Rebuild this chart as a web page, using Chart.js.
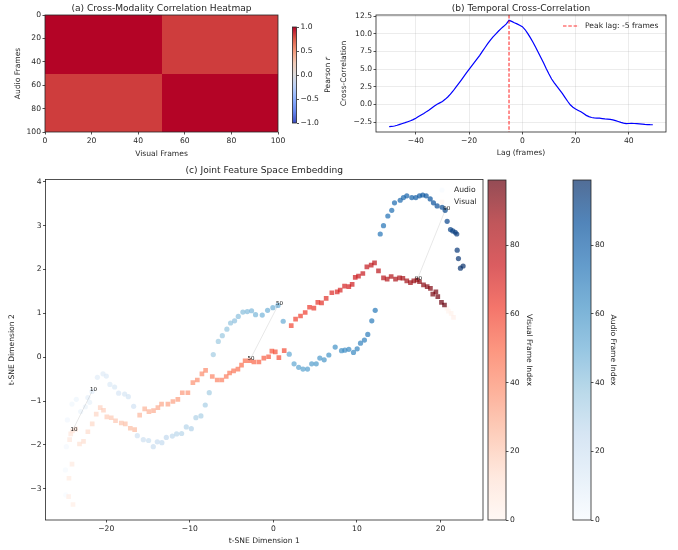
<!DOCTYPE html>
<html>
<head>
<meta charset="utf-8">
<script src="https://cdn.jsdelivr.net/npm/chart.js@4.4.1/dist/chart.umd.min.js"></script>
<style>
  html, body { margin: 0; padding: 0; background: #fff; }
  #fig { position: relative; width: 678px; height: 550px; overflow: hidden; background: #fff; }
  canvas { position: absolute; }
</style>
</head>
<body>
<div id="fig">
  <canvas id="heat" width="290" height="160" style="left:0;top:0"></canvas>
  <canvas id="heatbar" width="60" height="160" style="left:285px;top:0"></canvas>
  <canvas id="xcorr" width="343" height="160" style="left:335px;top:0"></canvas>
  <canvas id="embed" width="490" height="390" style="left:0;top:160px"></canvas>
  <canvas id="vbar" width="70" height="390" style="left:484px;top:160px"></canvas>
  <canvas id="abar" width="110" height="390" style="left:568px;top:160px"></canvas>
</div>
<script>
// (a) correlation matrix: two 50-frame blocks
const blockEdges = [0, 50, 100];
const blockCorr = [[1.0, 0.84], [0.84, 1.0]];
const heatTicks = [0, 20, 40, 60, 80, 100];
const pearsonTicks = [-1, -0.5, 0, 0.5, 1];

// (b) cross-correlation vs lag
const lags = [-50, -49, -48, -47, -46, -45, -44, -43, -42, -41, -40, -39, -38, -37, -36, -35, -34, -33, -32, -31,
  -30, -29, -28, -27, -26, -25, -24, -23, -22, -21, -20, -19, -18, -17, -16, -15, -14, -13, -12, -11,
  -10, -9, -8, -7, -6, -5, -4, -3, -2, -1, 0, 1, 2, 3, 4, 5, 6, 7, 8, 9,
  10, 11, 12, 13, 14, 15, 16, 17, 18, 19, 20, 21, 22, 23, 24, 25, 26, 27, 28, 29,
  30, 31, 32, 33, 34, 35, 36, 37, 38, 39, 40, 41, 42, 43, 44, 45, 46, 47, 48, 49];
const xcorr = [-3.15, -3.12, -3.05, -2.95, -2.82, -2.70, -2.58, -2.45, -2.32, -2.15,
  -1.95, -1.72, -1.50, -1.28, -1.02, -0.78, -0.50, -0.22, 0.02, 0.22,
  0.42, 0.72, 1.05, 1.45, 1.90, 2.40, 2.90, 3.40, 3.92, 4.45,
  4.95, 5.45, 5.95, 6.45, 6.95, 7.50, 8.05, 8.60, 9.10, 9.55,
  9.95, 10.35, 10.72, 11.05, 11.40, 11.90, 11.75, 11.55, 11.40, 11.20,
  11.00, 10.60, 10.05, 9.45, 8.80, 8.10, 7.35, 6.60, 5.85, 5.05,
  4.30, 3.60, 3.05, 2.55, 2.05, 1.55, 1.00, 0.45, -0.05, -0.40,
  -0.65, -0.85, -1.05, -1.30, -1.55, -1.72, -1.85, -1.90, -1.93, -1.95,
  -2.00, -2.05, -2.08, -2.12, -2.18, -2.30, -2.42, -2.55, -2.65, -2.72,
  -2.70, -2.68, -2.70, -2.72, -2.75, -2.78, -2.82, -2.85, -2.87, -2.88];
const lagTicks = [-40, -20, 0, 20, 40];
const xcorrTicks = [-2.5, 0, 2.5, 5, 7.5, 10, 12.5];

// (c) t-SNE embedding, one point per frame (index = frame number)
const audioX = [-24.86, -24.89, -24.77, -24.65, -24.10, -23.58, -23.06, -22.50, -21.99, -22.20,
  -21.70, -21.06, -20.39, -19.99, -19.56, -19.00, -18.52, -17.80, -17.36, -16.72,
  -16.28, -15.56, -14.93, -14.37, -13.89, -13.34, -12.81, -12.09, -11.58, -10.98,
  -10.42, -9.82, -9.27, -8.67, -8.15, -7.67, -7.19, -6.59, -6.11, -5.56,
  -5.12, -4.64, -4.20, -3.65, -3.12, -2.61, -2.13, -1.33, -0.69, -0.06,
  0.55, 1.18, 1.90, 2.48, 3.03, 3.55, 4.09, 4.59, 5.13, 5.56,
  6.08, 6.64, 7.40, 8.16, 8.56, 9.03, 9.59, 10.03, 10.43, 10.90,
  11.30, 11.78, 12.19, 12.79, 13.18, 13.70, 14.17, 14.50, 15.18, 15.57,
  15.97, 16.57, 17.05, 17.49, 17.88, 18.29, 18.77, 19.16, 19.60, 20.20,
  20.56, 20.80, 21.20, 21.47, 21.76, 21.95, 22.00, 22.15, 22.39, 22.71];
const audioY = [-3.14, -2.57, -2.04, -1.43, -1.07, -0.96, -1.24, -1.13, -1.03, -0.92,
  -0.78, -0.46, -0.38, -0.43, -0.62, -0.68, -0.82, -0.84, -0.90, -1.12,
  -1.79, -1.88, -1.90, -2.04, -1.93, -1.95, -1.83, -1.80, -1.75, -1.74,
  -1.59, -1.63, -1.38, -1.34, -1.09, -0.81, 0.06, 0.36, 0.49, 0.64,
  0.78, 0.83, 0.93, 1.03, 1.04, 1.06, 0.97, 0.96, 1.07, 1.13,
  1.18, 0.82, 0.07, -0.15, -0.23, -0.27, -0.27, -0.15, -0.15, -0.02,
  -0.06, 0.05, 0.23, 0.15, 0.16, 0.18, 0.11, 0.19, 0.32, 0.39,
  0.52, 0.83, 1.07, 2.81, 3.00, 3.22, 3.35, 3.52, 3.58, 3.64,
  3.68, 3.64, 3.64, 3.68, 3.70, 3.68, 3.61, 3.52, 3.45, 3.42,
  3.35, 3.10, 2.91, 2.88, 2.85, 2.81, 2.44, 2.25, 2.03, 2.08];
const visualX = [20.75, 20.95, 21.28, 21.56, -23.98, -24.50, -24.46, -24.10, -24.38, -24.25,
  -24.05, -23.66, -23.20, -22.72, -22.20, -21.68, -21.20, -20.72, -20.33, -19.93,
  -19.40, -18.89, -18.20, -17.72, -17.12, -16.60, -16.00, -15.40, -14.89, -14.34,
  -13.82, -13.38, -12.62, -12.02, -11.43, -10.90, -10.23, -9.63, -9.10, -8.55,
  -8.11, -7.31, -6.72, -6.17, -5.64, -5.24, -4.76, -4.24, -3.81, -3.38,
  -2.85, -2.33, -1.73, -1.14, -0.57, -0.18, 0.23, 0.66, 1.30, 2.14,
  2.66, 3.25, 3.81, 4.33, 4.85, 5.32, 5.77, 6.32, 7.00, 7.64,
  8.00, 8.52, 9.03, 9.43, 9.80, 10.19, 10.71, 11.19, 11.71, 12.11,
  12.58, 13.18, 13.62, 14.10, 14.62, 15.10, 15.50, 15.97, 16.41, 16.81,
  17.20, 17.49, 17.97, 18.41, 18.80, 19.08, 19.45, 19.68, 20.12, 20.48];
const visualY = [1.12, 1.05, 1.00, 0.91, -3.36, -3.18, -2.76, -2.44, -1.88, -1.75,
  -1.68, -1.64, -1.98, -1.92, -1.70, -1.52, -1.30, -1.15, -1.21, -1.36,
  -1.38, -1.45, -1.50, -1.52, -1.62, -1.65, -1.32, -1.18, -1.24, -1.22,
  -1.15, -1.07, -1.07, -1.01, -0.96, -0.81, -0.81, -0.58, -0.52, -0.38,
  -0.30, -0.44, -0.52, -0.52, -0.44, -0.36, -0.31, -0.27, -0.18, -0.08,
  -0.08, -0.11, -0.11, -0.02, 0.01, 0.14, 0.12, -0.01, 0.15, 0.72,
  0.87, 0.94, 1.02, 1.14, 1.12, 1.25, 1.24, 1.34, 1.47, 1.49,
  1.53, 1.62, 1.61, 1.66, 1.82, 1.85, 1.91, 2.06, 2.10, 2.15,
  1.97, 1.81, 1.78, 1.84, 1.78, 1.81, 1.80, 1.74, 1.70, 1.74,
  1.76, 1.72, 1.65, 1.61, 1.57, 1.44, 1.49, 1.38, 1.25, 1.19];
const markedFrames = [10, 50, 90];
const tsneXTicks = [-20, -10, 0, 10, 20];
const tsneYTicks = [-3, -2, -1, 0, 1, 2, 3, 4];
const frameTicks = [0, 20, 40, 60, 80];

// ---- styling helpers ----
const INK = '#262626';
const FONT = 'DejaVu Sans';
const TICK = 7.6, TITLE = 9.1;
const tickFont = { family: FONT, size: TICK };

function cmap(stops) {
  const rgb = stops.map(h => [1, 3, 5].map(k => parseInt(h.slice(k, k + 2), 16)));
  return t => {
    t = Math.min(1, Math.max(0, t));
    const p = t * (rgb.length - 1);
    const i = Math.min(Math.floor(p), rgb.length - 2), f = p - i;
    return rgb[i].map((c, k) => Math.round(c + (rgb[i + 1][k] - c) * f));
  };
}
const coolwarm = cmap(['#3b4cc0', '#6788ee', '#8db0fe', '#b9d0f9', '#dddcdc', '#f2cbb7', '#f49a7b', '#dc5d4a', '#b40426']);
const blues = cmap(['#f7fbff', '#deebf7', '#c6dbef', '#9ecae1', '#6baed6', '#4292c6', '#2171b5', '#08519c', '#08306b']);
const reds = cmap(['#fff5f0', '#fee0d2', '#fcbba1', '#fc9272', '#fb6a4a', '#ef3b2c', '#cb181d', '#a50f15', '#67000d']);
const rgba = (c, a) => `rgba(${c[0]},${c[1]},${c[2]},${a})`;
const num = d => v => (v < 0 ? '\u2212' : '') + Math.abs(v).toFixed(d);

function padRange(vals) {
  const lo = Math.min(...vals), hi = Math.max(...vals), m = (hi - lo) * 0.05;
  return [lo - m, hi + m];
}

function axis(o) {
  return {
    type: 'linear',
    position: o.position,
    min: o.min, max: o.max, reverse: !!o.reverse,
    afterBuildTicks: s => { s.ticks = o.ticks.map(v => ({ value: v })); },
    afterFit: s => { if (s.isHorizontal()) s.height = o.size; else s.width = o.size; },
    grid: { drawOnChartArea: !!o.grid, color: 'rgba(176,176,176,0.3)', lineWidth: 0.8,
            tickColor: INK, tickLength: 2.5, tickWidth: 0.8 },
    border: { display: false },
    ticks: { font: tickFont, color: INK, padding: 1.5, autoSkip: false, maxRotation: 0,
             callback: v => o.fmt(v) },
    title: o.title
      ? { display: true, text: o.title, font: tickFont, color: INK, padding: { top: o.titlePad, bottom: o.titlePad } }
      : { display: false }
  };
}

const frameBox = {
  id: 'frameBox',
  afterDraw(chart) {
    const { ctx, chartArea: a } = chart;
    ctx.save();
    ctx.strokeStyle = INK;
    ctx.lineWidth = 0.8;
    ctx.strokeRect(a.left, a.top, a.right - a.left, a.bottom - a.top);
    ctx.restore();
  }
};

function panelTitle(text, gap) {
  return {
    id: 'panelTitle',
    afterDraw(chart) {
      const { ctx, chartArea: a } = chart;
      ctx.save();
      ctx.font = `${TITLE}px "${FONT}"`;
      ctx.fillStyle = INK;
      ctx.textAlign = 'center';
      ctx.fillText(text, (a.left + a.right) / 2, a.top - gap);
      ctx.restore();
    }
  };
}

const base = (padding) => ({
  responsive: false, animation: false, devicePixelRatio: 1,
  layout: { autoPadding: false, padding },
  plugins: { legend: { display: false }, tooltip: { enabled: false } }
});

function colorbar(id, o) {
  const opts = base(o.pad);
  opts.scales = {
    x: { display: false, min: 0, max: 1 },
    y: axis({ position: 'right', min: o.min, max: o.max, ticks: o.ticks, fmt: o.fmt, size: o.size,
              title: o.title, titlePad: o.titlePad })
  };
  return new Chart(document.getElementById(id), {
    type: 'scatter',
    data: { datasets: [] },
    options: opts,
    plugins: [{
      id: 'ramp',
      beforeDatasetsDraw(chart) {
        const { ctx, chartArea: a, scales: { y } } = chart;
        const g = ctx.createLinearGradient(0, y.getPixelForValue(o.min), 0, y.getPixelForValue(o.max));
        for (let k = 0; k <= 32; k++) g.addColorStop(k / 32, rgba(o.cmap(k / 32), o.alpha));
        ctx.fillStyle = g;
        ctx.fillRect(a.left, a.top, a.right - a.left, a.bottom - a.top);
      }
    }, frameBox].concat(o.extra || [])
  });
}

// ---- (a) heatmap ----
const heatCells = {
  id: 'heatCells',
  beforeDatasetsDraw(chart) {
    const { ctx, scales: { x, y } } = chart;
    blockCorr.forEach((row, i) => row.forEach((v, j) => {
      const xs = [x.getPixelForValue(blockEdges[j]), x.getPixelForValue(blockEdges[j + 1])].map(Math.round);
      const ys = [y.getPixelForValue(blockEdges[i]), y.getPixelForValue(blockEdges[i + 1])].map(Math.round);
      ctx.fillStyle = rgba(coolwarm((v + 1) / 2), 1);
      ctx.fillRect(Math.min(...xs), Math.min(...ys), Math.abs(xs[1] - xs[0]), Math.abs(ys[1] - ys[0]));
    }));
  }
};
const heatOpts = base({ left: 0, top: 15, right: 12, bottom: 0 });
heatOpts.scales = {
  x: axis({ position: 'bottom', min: 0, max: 100, ticks: heatTicks, fmt: num(0), size: 28, title: 'Visual Frames', titlePad: 1.4 }),
  y: axis({ position: 'left', min: 0, max: 100, reverse: true, ticks: heatTicks, fmt: num(0), size: 45, title: 'Audio Frames', titlePad: 13 })
};
new Chart(document.getElementById('heat'), {
  type: 'scatter',
  data: { datasets: [] },
  options: heatOpts,
  plugins: [heatCells, frameBox, panelTitle('(a) Cross-Modality Correlation Heatmap', 4.5)]
});

const pearsonLabel = {
  id: 'pearsonLabel',
  afterDraw(chart) {
    const { ctx, chartArea: a } = chart;
    const f1 = `${TICK}px "${FONT}"`, f2 = `italic ${TICK}px "${FONT}"`;
    ctx.save();
    ctx.translate(a.right + 32, (a.top + a.bottom) / 2);
    ctx.rotate(-Math.PI / 2);
    ctx.fillStyle = INK;
    ctx.textBaseline = 'middle';
    ctx.font = f1; const w1 = ctx.measureText('Pearson ').width;
    ctx.font = f2; const w2 = ctx.measureText('r').width;
    ctx.font = f1; ctx.fillText('Pearson ', -(w1 + w2) / 2, 0);
    ctx.font = f2; ctx.fillText('r', -(w1 + w2) / 2 + w1, 0);
    ctx.restore();
  }
};
colorbar('heatbar', {
  pad: { left: 7.5, top: 27, right: 0, bottom: 37 }, size: 48.5,
  min: -1, max: 1, ticks: pearsonTicks, fmt: num(1), cmap: t => coolwarm(t), alpha: 1,
  extra: [pearsonLabel]
});

// ---- (b) temporal cross-correlation ----
const peakIdx = xcorr.indexOf(Math.max(...xcorr));
const peakLag = lags[peakIdx];
const [lagMin, lagMax] = padRange(lags);
const [corrMin, corrMax] = padRange(xcorr);
const peakLine = {
  id: 'peakLine',
  afterDatasetsDraw(chart) {
    const { ctx, chartArea: a, scales: { x } } = chart;
    const px = x.getPixelForValue(peakLag);
    ctx.save();
    ctx.strokeStyle = 'rgba(255,0,0,0.8)';
    ctx.lineWidth = 1.1;
    ctx.setLineDash([3.5, 1.8]);
    ctx.beginPath(); ctx.moveTo(px, a.top); ctx.lineTo(px, a.bottom); ctx.stroke();
    // legend
    const ly = a.top + 11;
    ctx.beginPath(); ctx.moveTo(a.right - 103, ly); ctx.lineTo(a.right - 87, ly); ctx.stroke();
    ctx.setLineDash([]);
    ctx.fillStyle = INK;
    ctx.font = `${TICK}px "${FONT}"`;
    ctx.textBaseline = 'middle';
    ctx.fillText(`Peak lag: ${peakLag} frames`, a.right - 81, ly);
    ctx.restore();
  }
};
const xcOpts = base({ left: 0, top: 15, right: 12, bottom: 0 });
xcOpts.scales = {
  x: axis({ position: 'bottom', min: lagMin, max: lagMax, ticks: lagTicks, fmt: num(0), size: 28, grid: true, title: 'Lag (frames)', titlePad: 2.1 }),
  y: axis({ position: 'left', min: corrMin, max: corrMax, ticks: xcorrTicks, fmt: num(1), size: 41, grid: true, title: 'Cross-Correlation', titlePad: 4.4 })
};
new Chart(document.getElementById('xcorr'), {
  type: 'scatter',
  data: {
    datasets: [{
      data: lags.map((l, i) => ({ x: l, y: xcorr[i] })),
      showLine: true, borderColor: '#0000ff', borderWidth: 1.2, pointRadius: 0, tension: 0
    }]
  },
  options: xcOpts,
  plugins: [peakLine, frameBox, panelTitle('(b) Temporal Cross-Correlation', 4)]
});

// ---- (c) joint embedding ----
const nFrames = audioX.length;
const frameColor = (cm, i) => rgba(cm(i / (nFrames - 1)), 0.7);
const [ex0, ex1] = padRange(audioX.concat(visualX));
const [ey0, ey1] = padRange(audioY.concat(visualY));

const links = markedFrames.map(i => ({
  data: [{ x: audioX[i], y: audioY[i] }, { x: visualX[i], y: visualY[i] }],
  showLine: true, borderColor: 'rgba(0,0,0,0.12)', borderWidth: 0.8, pointRadius: 0
}));
const frameLabels = {
  id: 'frameLabels',
  afterDatasetsDraw(chart) {
    const { ctx, scales: { x, y } } = chart;
    ctx.save();
    ctx.font = `5.5px "${FONT}"`;
    ctx.fillStyle = '#111';
    ctx.textBaseline = 'bottom';
    markedFrames.forEach(i => {
      ctx.fillText(String(i), x.getPixelForValue(audioX[i]) - 2, y.getPixelForValue(audioY[i]) + 1);
      ctx.fillText(String(i), x.getPixelForValue(visualX[i]) - 2, y.getPixelForValue(visualY[i]) + 1);
    });
    ctx.restore();
  }
};
const embedLegend = {
  id: 'embedLegend',
  afterDraw(chart) {
    const { ctx, chartArea: a } = chart;
    ctx.save();
    ctx.font = `${TICK}px "${FONT}"`;
    ctx.textBaseline = 'middle';
    ctx.fillStyle = rgba(blues(0), 0.7);
    ctx.beginPath(); ctx.arc(a.right - 41, a.top + 10.5, 2.6, 0, 2 * Math.PI); ctx.fill();
    ctx.fillStyle = rgba(reds(0), 0.7);
    ctx.fillRect(a.right - 43.3, a.top + 20.2, 4.6, 4.6);
    ctx.fillStyle = INK;
    ctx.fillText('Audio', a.right - 29, a.top + 10.5);
    ctx.fillText('Visual', a.right - 29, a.top + 22.5);
    ctx.restore();
  }
};
const emOpts = base({ left: 0, top: 19.5, right: 7, bottom: 0 });
emOpts.scales = {
  x: axis({ position: 'bottom', min: ex0, max: ex1, ticks: tsneXTicks, fmt: num(0), size: 30, title: 't-SNE Dimension 1', titlePad: 4.4 }),
  y: axis({ position: 'left', min: ey0, max: ey1, ticks: tsneYTicks, fmt: num(0), size: 45.5, title: 't-SNE Dimension 2', titlePad: 7.4 })
};
new Chart(document.getElementById('embed'), {
  type: 'scatter',
  data: {
    datasets: links.concat([
      {
        label: 'Visual',
        data: visualX.map((x, i) => ({ x, y: visualY[i] })),
        pointStyle: 'rect', pointRadius: 3.3, borderWidth: 0,
        pointBackgroundColor: visualX.map((_, i) => frameColor(reds, i))
      },
      {
        label: 'Audio',
        data: audioX.map((x, i) => ({ x, y: audioY[i] })),
        pointStyle: 'circle', pointRadius: 2.6, borderWidth: 0,
        pointBackgroundColor: audioX.map((_, i) => frameColor(blues, i))
      }
    ])
  },
  options: emOpts,
  plugins: [frameLabels, frameBox, embedLegend, panelTitle('(c) Joint Feature Space Embedding', 6.5)]
});

colorbar('vbar', {
  pad: { left: 4, top: 20, right: 0, bottom: 30 }, size: 48,
  min: 0, max: nFrames - 1, ticks: frameTicks, fmt: num(0), cmap: reds, alpha: 0.7,
  title: 'Visual Frame Index', titlePad: 20.4
});
colorbar('abar', {
  pad: { left: 5, top: 20, right: 0, bottom: 30 }, size: 87,
  min: 0, max: nFrames - 1, ticks: frameTicks, fmt: num(0), cmap: blues, alpha: 0.7,
  title: 'Audio Frame Index', titlePad: 60.1
});
</script>
</body>
</html>
